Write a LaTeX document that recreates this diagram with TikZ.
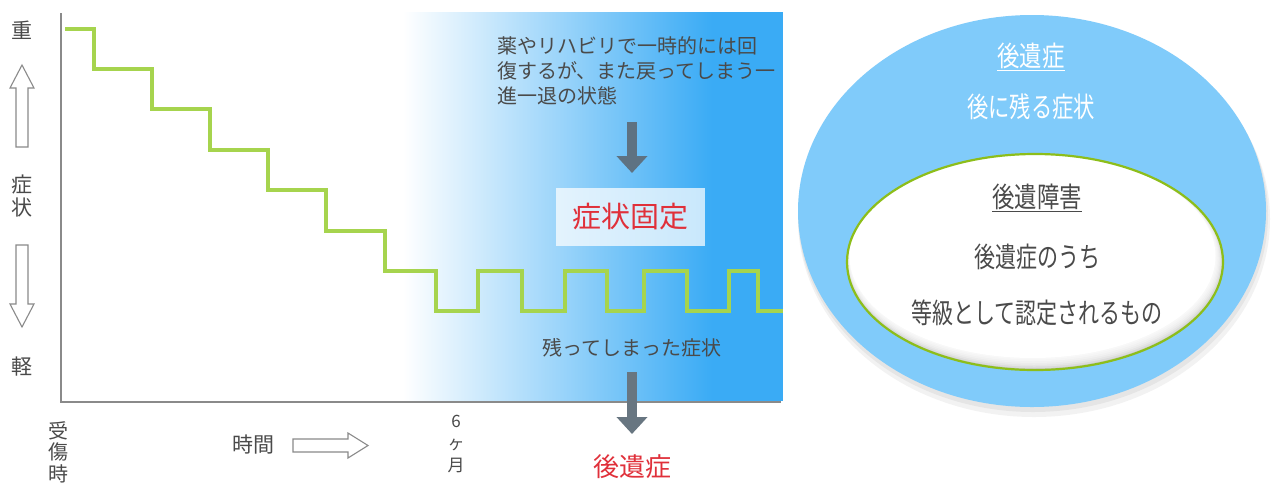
\documentclass[tikz,border=0pt]{standalone}
\usepackage{fontspec}
\newfontfamily\jp{Noto Sans CJK JP}
\usetikzlibrary{arrows.meta,shadows}
\definecolor{stepgreen}{HTML}{A6D44E}
\definecolor{skyblue}{HTML}{3AABF5}
\definecolor{txtgray}{HTML}{4A4A4A}
\definecolor{axisgray}{HTML}{8A8A8A}
\definecolor{slate}{HTML}{5E7282}
\definecolor{fixred}{HTML}{E0303A}
\definecolor{outerblue}{HTML}{80CBFA}
\definecolor{innergreen}{HTML}{8DBE1A}
\begin{document}
\begin{tikzpicture}[x=1pt,y=-1pt,
  lbl/.style={font=\jp\fontsize{21}{23}\selectfont, text=txtgray, inner sep=0pt},
  small/.style={font=\jp\fontsize{20}{25}\selectfont, text=txtgray, inner sep=0pt},
  ovaltext/.style={font=\jp\fontsize{28}{30}\selectfont, inner sep=0pt},
  hollow/.style={draw=axisgray, fill=white, line width=1.1pt, line join=miter},
  bigarrow/.style={line width=10pt, -{Triangle[width=30pt,length=17pt]}},
  stepline/.style={stepgreen, line width=3.2pt, line join=miter},
]
\useasboundingbox (0,0) rectangle (1271,483);
\fill[white] (0,0) rectangle (1271,483);

% gradient background
\shade[left color=white, right color=skyblue] (403,12) rectangle (712,401);
\fill[skyblue] (711.5,12) rectangle (783,401);

% axes
\draw[axisgray, line width=2pt] (61,13) -- (61,402) -- (781,402);

% staircase and oscillation
\draw[stepline] (65,29) -- (94,29) -- (94,69) -- (152,69) -- (152,109) -- (210,109)
  -- (210,150) -- (268,150) -- (268,190) -- (326,190) -- (326,231) -- (385,231)
  -- (385,271) -- (436,271) -- (436,311) -- (478,311) -- (478,271) -- (522,271)
  -- (522,311) -- (565,311) -- (565,271) -- (607,271) -- (607,311) -- (644,311)
  -- (644,271) -- (687,271) -- (687,311) -- (729,311) -- (729,271) -- (758,271)
  -- (758,311) -- (783,311);

% y-axis labels
\node[lbl] (heavy) at (22,30) {重};
\node[lbl, align=center] (sym) at (22,196) {症\\状};
\node[lbl] (light) at (22,367) {軽};
\draw[hollow] (16,147) -- (16,88) -- (10,88) -- (22,65) -- (34,88) -- (28,88) -- (28,147) -- cycle;
\draw[hollow] (16,245) -- (16,304) -- (10,304) -- (22,327) -- (34,304) -- (28,304) -- (28,245) -- cycle;

% x-axis labels
\node[lbl, align=center, font=\jp\fontsize{20}{21.5}\selectfont] (injury) at (58,452) {受\\傷\\時};
\node[lbl] (time) at (253,445) {時間};
\draw[hollow] (293,439) -- (348,439) -- (348,433) -- (368,445.5) -- (348,458) -- (348,452) -- (293,452) -- cycle;
\node[lbl, align=center, font=\jp\fontsize{17}{22}\selectfont] (six) at (456,444) {6\\ヶ\\月};

% explanation text
\node[small, anchor=north west, align=left] (para) at (497,36)
  {薬やリハビリで一時的には回\\復するが、また戻ってしまう一\\進一退の状態};
\node[fill=white, fill opacity=0.72, text opacity=1, minimum width=149pt, minimum height=58pt,
  font=\jp\fontsize{29}{29}\selectfont, text=fixred] (fix) at (630.5,217) {症状固定};
\node[small] (rem) at (632,348) {残ってしまった症状};
\node[font=\jp\fontsize{26}{26}\selectfont, text=fixred, inner sep=0pt] (seq) at (632,467) {後遺症};

\coordinate (a1s) at (632,122);
\coordinate (a1e) at (632,173);
\draw[bigarrow, slate] (a1s) -- (a1e);
\coordinate (a2s) at (632,372);
\coordinate (a2e) at (632,434);
\draw[bigarrow, color=slate!70!gray] (a2s) -- (a2e);

% right panel: nested ellipses
\fill[black, opacity=0.05] (1034,219) ellipse [x radius=236, y radius=198];
\fill[black, opacity=0.05] (1033,215) ellipse [x radius=235, y radius=197];
\fill[outerblue] (1032,211) ellipse [x radius=234, y radius=196];
\node[ovaltext, text=white] (outt) at (1031,57) {\scalebox{0.8}[1]{\underline{後遺症}}};
\node[ovaltext, text=white] (outs) at (1031,107) {\scalebox{0.76}[1]{後に残る症状}};

\begin{scope}
  \clip (1035,262) ellipse [x radius=188, y radius=108];
  \fill[gray!40] (1035,262) ellipse [x radius=188, y radius=108];
  \foreach \i in {1,...,6}
    \fill[white, opacity=0.3] ({1035-0.35*\i},{262-0.85*\i}) ellipse [x radius={188-0.7*\i}, y radius={108-0.9*\i}];
  \fill[white] (1032.5,256) ellipse [x radius=183, y radius=102];
\end{scope}
\draw[innergreen, line width=2.2pt] (1035,262) ellipse [x radius=188, y radius=108];
\node[ovaltext, text=txtgray] (in1) at (1037,198) {\scalebox{0.8}[1]{\underline{後遺障害}}};
\node[ovaltext, text=txtgray] (in2) at (1037,257) {\scalebox{0.75}[1]{後遺症のうち}};
\node[ovaltext, text=txtgray] (in3) at (1037,313) {\scalebox{0.75}[1]{等級として認定されるもの}};
\end{tikzpicture}
\end{document}
